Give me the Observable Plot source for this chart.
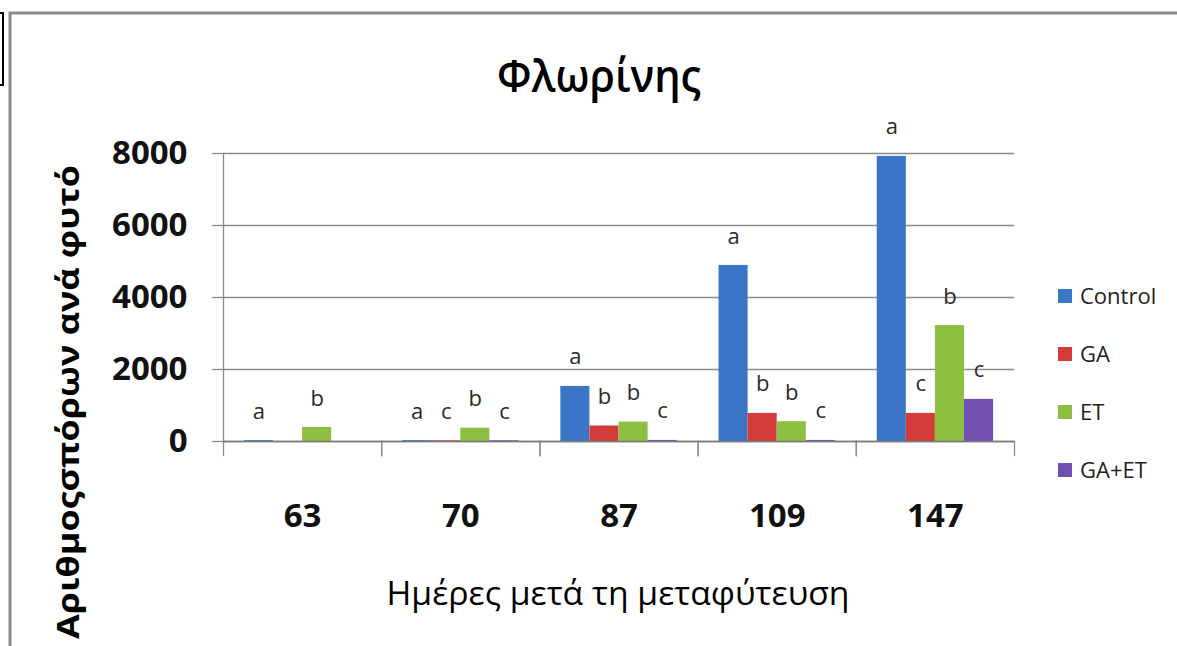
<!DOCTYPE html>
<html>
<head>
<meta charset="utf-8">
<script src="https://cdn.jsdelivr.net/npm/d3@7"></script>
<script src="https://cdn.jsdelivr.net/npm/@observablehq/plot@0.6"></script>
<style>
  html, body { margin: 0; padding: 0; background: #fff; }
  #chart { width: 1177px; height: 646px; overflow: hidden; }
</style>
</head>
<body>
<div id="chart"></div>
<script>
// ---- data ----
const days = ["63", "70", "87", "109", "147"];
const seriesNames = ["Control", "GA", "ET", "GA+ET"];
const seriesColors = ["#3b75c8", "#d43b3b", "#8cbf42", "#7250b0"];
const controlValues = [25, 25, 1530, 4890, 7920];
const gaValues = [0, 20, 430, 780, 780];
const etValues = [390, 370, 540, 550, 3220];
const gaEtValues = [0, 20, 30, 30, 1170];
const controlLetters = ["a", "a", "a", "a", "a"];
const gaLetters = ["", "c", "b", "b", "c"];
const etLetters = ["b", "b", "b", "b", "b"];
const gaEtLetters = ["", "c", "c", "c", "c"];
const yTicks = [0, 2000, 4000, 6000, 8000];
const titleText = "Φλωρίνης";
const xLabel = "Ημέρες μετά τη μεταφύτευση";
const yLabel = "Αριθμοςσπόρων ανά φυτό";

const valueSets = [controlValues, gaValues, etValues, gaEtValues];
const letterSets = [controlLetters, gaLetters, etLetters, gaEtLetters];
const table = [];
days.forEach((d, i) => {
  seriesNames.forEach((s, j) => {
    table.push({day: d, series: s, value: valueSets[j][i], letter: letterSets[j][i]});
  });
});

const W = 1177, H = 646;
const mT = 153, mB = 205, mL = 223, mR = 163;
const innerH = H - mT - mB;
const gridColor = "#8c8c8c";
const font = "'Open Sans', 'Noto Sans', sans-serif";

const svg = Plot.plot({
  width: W,
  height: H,
  marginTop: mT,
  marginBottom: mB,
  marginLeft: mL,
  marginRight: mR,
  style: {fontFamily: font, background: "white", overflow: "visible", color: "#000"},
  fx: {domain: days, paddingInner: 0, paddingOuter: 0, round: false, label: null},
  x: {domain: seriesNames, paddingInner: 0, paddingOuter: 0.72, round: false, axis: null},
  y: {domain: [0, 8000], label: null},
  color: {domain: seriesNames, range: seriesColors},
  marks: [
    Plot.gridY(yTicks, {stroke: gridColor, strokeOpacity: 1, strokeWidth: 1.3}),
    Plot.frame({anchor: "left", facetAnchor: "left", stroke: gridColor, strokeWidth: 1.3}),
    Plot.frame({anchor: "left", stroke: gridColor, strokeWidth: 1.3, insetTop: innerH, insetBottom: -14}),
    Plot.frame({anchor: "right", stroke: gridColor, strokeWidth: 1.3, insetTop: innerH, insetBottom: -14}),
    Plot.axisY(yTicks, {tickSize: 11, tickPadding: 25, fontSize: 33, fontWeight: "bold", stroke: gridColor, strokeWidth: 1.3, fill: "#111", label: null, tickFormat: d => String(d)}),
    Plot.axisFx({anchor: "bottom", tickSize: 0, tickPadding: 62, fontSize: 33, fontWeight: "bold", fill: "#111", label: null}),
    Plot.barY(table, {fx: "day", x: "series", y: "value", fill: "series"}),
    Plot.ruleY([0], {stroke: "#7a7a7a", strokeWidth: 1.5}),
    Plot.text(table, {fx: "day", x: "series", y: "value", text: "letter", dy: -29, fontSize: 22, fill: "#2a2a2a"})
  ]
});

const root = d3.select(svg);

// outer frame pieces
root.append("path")
  .attr("d", `M10,${H + 5} V13 H${W + 5}`)
  .attr("fill", "none").attr("stroke", "#8a8a8a").attr("stroke-width", 3);
root.append("rect")
  .attr("x", -3).attr("y", 13).attr("width", 6).attr("height", 72)
  .attr("fill", "none").attr("stroke", "#000").attr("stroke-width", 2);

// title
root.append("text")
  .attr("x", 599).attr("y", 92)
  .attr("text-anchor", "middle")
  .attr("font-family", font).attr("font-size", 46).attr("font-weight", 600)
  .attr("textLength", 204).attr("lengthAdjust", "spacingAndGlyphs")
  .attr("fill", "#000")
  .text(titleText);

// x label
root.append("text")
  .attr("x", 618).attr("y", 605)
  .attr("text-anchor", "middle")
  .attr("font-family", font).attr("font-size", 33).attr("font-weight", 500)
  .attr("textLength", 463).attr("lengthAdjust", "spacingAndGlyphs")
  .attr("fill", "#000")
  .text(xLabel);

// y label
root.append("text")
  .attr("transform", "translate(79,165) rotate(-90)")
  .attr("text-anchor", "end")
  .attr("font-family", font).attr("font-size", 31).attr("font-weight", "bold")
  .attr("textLength", 474).attr("lengthAdjust", "spacingAndGlyphs")
  .attr("fill", "#000")
  .text(yLabel);

// legend
const legend = root.append("g")
  .attr("font-family", font).attr("font-size", 22).attr("text-anchor", "start");
seriesNames.forEach((s, i) => {
  const cy = 296 + i * 58;
  legend.append("rect")
    .attr("x", 1058).attr("y", cy - 7).attr("width", 14).attr("height", 14)
    .attr("fill", seriesColors[i]);
  legend.append("text")
    .attr("x", 1080).attr("y", cy + 8)
    .attr("text-anchor", "start")
    .attr("fill", "#222")
    .text(s);
});

document.getElementById("chart").appendChild(svg);
</script>
</body>
</html>
